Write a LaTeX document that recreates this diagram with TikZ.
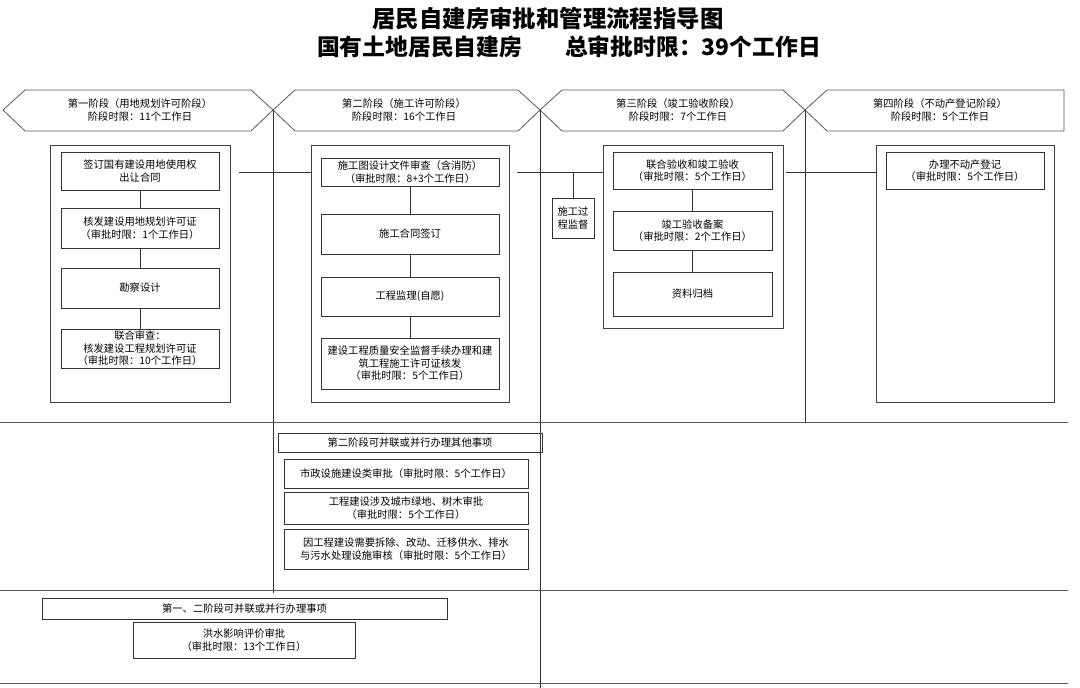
\documentclass[tikz,border=0pt]{standalone}
\usepackage{fontspec}
\setmainfont{Noto Sans CJK SC}
\begin{document}
\begin{tikzpicture}[x=1pt,y=-1pt,
  sm/.style={font=\fontsize{10.3}{12.6}\selectfont},
  box/.style={sm, draw=black!80, line width=0.8pt, inner sep=0pt, align=center},
  outer/.style={draw=black!75, line width=0.9pt, inner sep=0pt},
  hex/.style={draw=black!65, line width=0.8pt},
  htext/.style={sm, align=center, inner sep=0pt},
  conn/.style={draw=black!80, line width=0.8pt},
  rule/.style={draw=black!65, line width=1pt},
  title/.style={font=\bfseries, inner sep=0pt, anchor=center}
]
\useasboundingbox (0,0) rectangle (1080,688);
\fill[white] (0,0) rectangle (1080,688);

% titles
\node[title, font=\fontsize{23.4}{28}\selectfont\bfseries] (t1) at (548,19) {居民自建房审批和管理流程指导图};
\node[title, font=\fontsize{22.8}{27}\selectfont\bfseries] (t2) at (569,47) {国有土地居民自建房\hspace{43pt}总审批时限：39个工作日};

% stage headers (hexagons)
\draw[hex] (3,110) -- (25,90) -- (251,90) -- (273,110) -- (251,131) -- (25,131) -- cycle;
\draw[hex] (273,110) -- (295,90) -- (518,90) -- (540,110) -- (518,131) -- (295,131) -- cycle;
\draw[hex] (540,110) -- (562,90) -- (783,90) -- (805,110) -- (783,131) -- (562,131) -- cycle;
\draw[hex] (805,110) -- (827,90) -- (1064,90) -- (1064,131) -- (827,131) -- cycle;
\node[htext] (h1) at (140,110) {第一阶段（用地规划许可阶段）\\阶段时限：11个工作日};
\node[htext] (h2) at (404,110) {第二阶段（施工许可阶段）\\阶段时限：16个工作日};
\node[htext] (h3) at (678,110) {第三阶段（竣工验收阶段）\\阶段时限：7个工作日};
\node[htext] (h4) at (940,110) {第四阶段（不动产登记阶段）\\阶段时限：5个工作日};

% column / row rules
\coordinate (v1t) at (273,110); \coordinate (v1b) at (273,593);
\coordinate (v2t) at (540,110); \coordinate (v2b) at (540,688);
\coordinate (v3t) at (805,110); \coordinate (v3b) at (805,422);
\draw[conn] (v1t) -- (v1b);
\draw[conn] (v2t) -- (v2b);
\draw[conn] (v3t) -- (v3b);
\coordinate (r1l) at (0,422); \coordinate (r1r) at (1068,422);
\coordinate (r2l) at (0,590); \coordinate (r2r) at (1068,590);
\coordinate (r3l) at (0,683); \coordinate (r3r) at (1068,683);
\draw[rule] (r1l) -- (r1r);
\draw[rule] (r2l) -- (r2r);
\draw[rule] (r3l) -- (r3r);

% stage 1
\node[outer, minimum width=180, minimum height=257] (o1) at (140,273.5) {};
\node[box, minimum width=158, minimum height=38] (b1) at (140,171) {签订国有建设用地使用权\\出让合同};
\node[box, minimum width=158, minimum height=40] (b2) at (140,228) {核发建设用地规划许可证\\（审批时限：1个工作日）};
\node[box, minimum width=158, minimum height=40] (b3) at (140,288) {勘察设计};
\node[box, minimum width=158, minimum height=39] (b4) at (140,348.5) {联合审查：\\核发建设工程规划许可证\\（审批时限：10个工作日）};
\draw[conn] (b1) -- (b2);
\draw[conn] (b2) -- (b3);
\draw[conn] (b3) -- (b4);

% stage 2
\node[outer, minimum width=198, minimum height=257] (o2) at (410,273.5) {};
\node[box, minimum width=178, minimum height=28] (c1) at (410,172) {施工图设计文件审查（含消防）\\（审批时限：8+3个工作日）};
\node[box, minimum width=178, minimum height=40] (c2) at (410,234) {施工合同签订};
\node[box, minimum width=178, minimum height=39] (c3) at (410,296.5) {工程监理(自愿)};
\node[box, minimum width=178, minimum height=51] (c4) at (410,363.5) {建设工程质量安全监督手续办理和建\\筑工程施工许可证核发\\（审批时限：5个工作日）};
\draw[conn] (c1) -- (c2);
\draw[conn] (c2) -- (c3);
\draw[conn] (c3) -- (c4);

% stage 3
\node[outer, minimum width=180, minimum height=183] (o3) at (693,236.5) {};
\node[box, minimum width=159, minimum height=37] (d1) at (692.5,170.5) {联合验收和竣工验收\\（审批时限：5个工作日）};
\node[box, minimum width=159, minimum height=39] (d2) at (692.5,230.5) {竣工验收备案\\（审批时限：2个工作日）};
\node[box, minimum width=159, minimum height=44] (d3) at (692.5,294) {资料归档};
\node[box, minimum width=42, minimum height=40] (sv) at (573,218) {施工过\\程监督};
\draw[conn] (d1) -- (d2);
\draw[conn] (d2) -- (d3);

% stage 4
\node[outer, minimum width=178, minimum height=257] (o4) at (965,273.5) {};
\node[box, minimum width=158, minimum height=37] (e1) at (965,170.5) {办理不动产登记\\（审批时限：5个工作日）};

% links between stages
\coordinate (l1) at (239,172);
\coordinate (l2) at (517,172);
\coordinate (j1) at (573,172);
\coordinate (l3) at (786,172);
\draw[conn] (l1) -- (o2.west |- l1);
\draw[conn] (l2) -- (o3.west |- l2);
\draw[conn] (j1) -- (sv.north);
\draw[conn] (l3) -- (o4.west |- l3);

% parallel items of stage 2
\node[box, minimum width=264, minimum height=19] (p2) at (410,442.5) {第二阶段可并联或并行办理其他事项};
\node[box, minimum width=244, minimum height=29] (f1) at (406,473.5) {市政设施建设类审批（审批时限：5个工作日）};
\node[box, minimum width=244, minimum height=32] (f2) at (406,508) {工程建设涉及城市绿地、树木审批\\（审批时限：5个工作日）};
\node[box, minimum width=244, minimum height=40] (f3) at (406,549) {因工程建设需要拆除、改动、迁移供水、排水\\与污水处理设施审核（审批时限：5个工作日）};

% parallel items of stages 1 and 2
\node[box, minimum width=405, minimum height=21] (p12) at (244.5,608.5) {第一、二阶段可并联或并行办理事项};
\node[box, minimum width=222, minimum height=36] (g1) at (244,640) {洪水影响评价审批\\（审批时限：13个工作日）};
\end{tikzpicture}
\end{document}
